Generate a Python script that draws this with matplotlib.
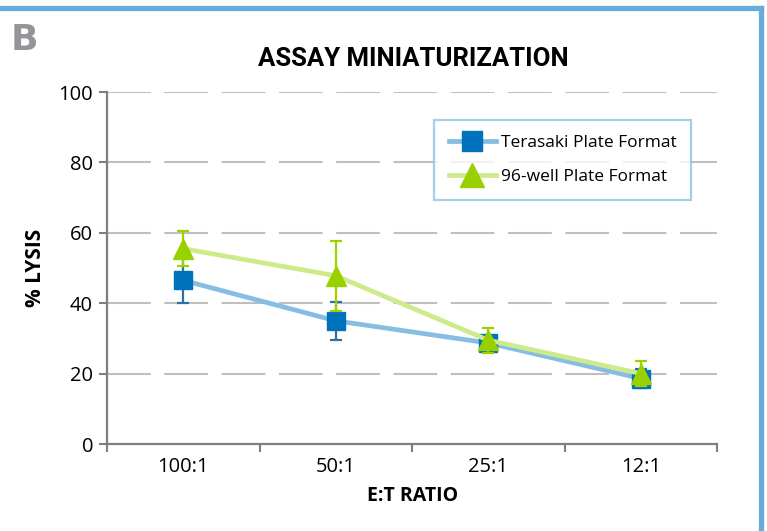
import matplotlib
matplotlib.use("Agg")
import matplotlib.pyplot as plt
from matplotlib.lines import Line2D

# data
ratios = ["100:1", "50:1", "25:1", "12:1"]
terasaki = [46.5, 35.0, 28.7, 18.6]
terasaki_err = [6.4, 5.4, 1.5, 2.6]
well96 = [55.5, 47.8, 29.5, 20.0]
well96_err = [5.0, 10.0, 3.5, 3.5]

plt.rcParams["font.family"] = ["Open Sans", "DejaVu Sans"]

fig = plt.figure(figsize=(7.67, 5.31), dpi=100)
ax = fig.add_axes([0.1395, 0.1638, 0.7955, 0.6629])

xs = [i + 0.5 for i in range(len(ratios))]

# Terasaki series (drawn first, sits under the green one)
ax.errorbar(xs, terasaki, yerr=terasaki_err, fmt="none", ecolor="#2F6FA8",
            elinewidth=1.6, capsize=4, capthick=1.6, zorder=3)
ax.plot(xs, terasaki, color="#86BDE3", lw=3.4, zorder=4,
        marker="s", markersize=12.5, markerfacecolor="#0072BC",
        markeredgecolor="#0072BC", label="Terasaki Plate Format")

ax.errorbar(xs, well96, yerr=well96_err, fmt="none", ecolor="#9BD100",
            elinewidth=1.6, capsize=4, capthick=1.6, zorder=5)
ax.plot(xs, well96, color="#CDEB8B", lw=3.4, zorder=6,
        marker="^", markersize=14, markerfacecolor="#99D000",
        markeredgecolor="#99D000", label="96-well Plate Format")

ax.set_xlim(0, 4)
ax.set_ylim(0, 100)
ax.set_yticks([0, 20, 40, 60, 80, 100])
ax.set_xticks([0, 1, 2, 3, 4])
ax.set_xticklabels([])
ax.set_xticks(xs, minor=True)
ax.set_xticklabels(ratios, minor=True)
ax.tick_params(axis="x", which="minor", length=0, labelsize=14.5, pad=9)
ax.tick_params(axis="x", which="major", length=6, width=1.5, color="#7F7F7F",
               direction="out")
ax.tick_params(axis="y", length=6, width=1.5, color="#7F7F7F",
               labelsize=14.5, pad=4)

for y in [20, 40, 60, 80, 100]:
    ax.axhline(y, color="#BFBFBF", lw=1.5, ls=(0, (21, 6.5)), zorder=1)

for s in ["top", "right"]:
    ax.spines[s].set_visible(False)
for s in ["left", "bottom"]:
    ax.spines[s].set_color("#7F7F7F")
    ax.spines[s].set_linewidth(1.6)

ax.set_ylabel("% LYSIS", fontsize=15, fontweight="bold", labelpad=9)
ax.set_xlabel("E:T RATIO", fontsize=14, fontweight="bold", labelpad=7)

leg = ax.legend(loc="upper left", bbox_to_anchor=(0.536, 0.92),
                fancybox=False, fontsize=12.5, handlelength=2.7,
                borderpad=0.85, labelspacing=1.05, handletextpad=0.3,
                borderaxespad=0, markerscale=1.2)
leg.get_frame().set_edgecolor("#8EC3E6")
leg.get_frame().set_linewidth(1.6)

fig.text(0.539, 0.8757, "ASSAY MINIATURIZATION", ha="center",
         va="baseline", fontsize=18.5, fontweight="bold",
         family=["Roboto", "DejaVu Sans"])
fig.text(0.014, 0.905, "B", ha="left", va="baseline", fontsize=26,
         fontweight="heavy", color="#939598",
         family=["DejaVu Sans"])

# blue frame at top and right
fig.add_artist(Line2D([0, 0.9925], [0.984, 0.984], color="#66ACDA",
                      lw=3.8, transform=fig.transFigure))
fig.add_artist(Line2D([0.9925, 0.9925], [0, 0.984], color="#66ACDA",
                      lw=3.8, transform=fig.transFigure))

fig.savefig("out.png", dpi=100)
